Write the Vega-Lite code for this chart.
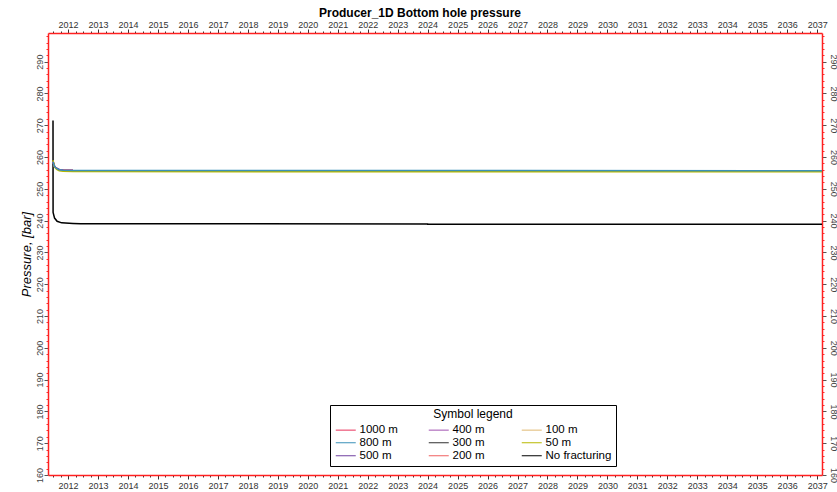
{
  "$schema": "https://vega.github.io/schema/vega-lite/v6.json",
  "width": 774,
  "height": 442,
  "autosize": {"type": "none"},
  "padding": {"left": 48, "top": 33, "right": 15, "bottom": 17},
  "background": "white",
  "config": {"view": {"stroke": null}, "font": "Liberation Sans"},
  "title": {"text": "Producer_1D Bottom hole pressure", "fontSize": 12, "fontWeight": "bold", "font": "Liberation Sans", "color": "#000", "anchor": "middle", "dx": -15, "offset": 0},
  "data": {"values": [
    {"s": "No fracturing", "t": "2011-07-01", "p": 271.5},
    {"s": "No fracturing", "t": "2011-07-02", "p": 242.6},
    {"s": "No fracturing", "t": "2011-07-20", "p": 240.8},
    {"s": "No fracturing", "t": "2011-08-20", "p": 239.8},
    {"s": "No fracturing", "t": "2011-10-15", "p": 239.3},
    {"s": "No fracturing", "t": "2012-03-01", "p": 239.1},
    {"s": "No fracturing", "t": "2012-06-01", "p": 239.0},
    {"s": "No fracturing", "t": "2024-01-01", "p": 238.95},
    {"s": "No fracturing", "t": "2024-01-02", "p": 238.85},
    {"s": "No fracturing", "t": "2037-03-01", "p": 238.85},
    {"s": "300 m", "t": "2011-07-01", "p": 258.6},
    {"s": "300 m", "t": "2011-07-20", "p": 257.0},
    {"s": "300 m", "t": "2011-08-15", "p": 256.4},
    {"s": "300 m", "t": "2011-09-15", "p": 256.0},
    {"s": "300 m", "t": "2011-11-01", "p": 255.85},
    {"s": "300 m", "t": "2012-03-01", "p": 255.75},
    {"s": "300 m", "t": "2037-03-01", "p": 255.6},
    {"s": "100 m", "t": "2011-07-01", "p": 258.7},
    {"s": "100 m", "t": "2011-07-20", "p": 257.0},
    {"s": "100 m", "t": "2011-08-15", "p": 256.4},
    {"s": "100 m", "t": "2011-09-15", "p": 256.0},
    {"s": "100 m", "t": "2011-11-01", "p": 255.8},
    {"s": "100 m", "t": "2012-03-01", "p": 255.65},
    {"s": "100 m", "t": "2037-03-01", "p": 255.5},
    {"s": "200 m", "t": "2011-07-01", "p": 258.6},
    {"s": "200 m", "t": "2011-07-20", "p": 257.0},
    {"s": "200 m", "t": "2011-08-15", "p": 256.4},
    {"s": "200 m", "t": "2011-09-15", "p": 256.0},
    {"s": "200 m", "t": "2011-11-01", "p": 255.85},
    {"s": "200 m", "t": "2012-03-01", "p": 255.72},
    {"s": "200 m", "t": "2037-03-01", "p": 255.58},
    {"s": "1000 m", "t": "2011-07-01", "p": 258.5},
    {"s": "1000 m", "t": "2011-07-20", "p": 257.0},
    {"s": "1000 m", "t": "2011-08-15", "p": 256.4},
    {"s": "1000 m", "t": "2011-09-15", "p": 256.0},
    {"s": "1000 m", "t": "2011-11-01", "p": 255.85},
    {"s": "1000 m", "t": "2012-03-01", "p": 255.75},
    {"s": "1000 m", "t": "2037-03-01", "p": 255.62},
    {"s": "500 m", "t": "2011-07-01", "p": 258.5},
    {"s": "500 m", "t": "2011-07-20", "p": 257.0},
    {"s": "500 m", "t": "2011-08-15", "p": 256.4},
    {"s": "500 m", "t": "2011-09-15", "p": 256.0},
    {"s": "500 m", "t": "2011-11-01", "p": 255.85},
    {"s": "500 m", "t": "2012-03-01", "p": 255.75},
    {"s": "500 m", "t": "2037-03-01", "p": 255.62},
    {"s": "400 m", "t": "2011-07-01", "p": 258.5},
    {"s": "400 m", "t": "2011-07-20", "p": 257.0},
    {"s": "400 m", "t": "2011-08-15", "p": 256.4},
    {"s": "400 m", "t": "2011-09-15", "p": 256.0},
    {"s": "400 m", "t": "2011-11-01", "p": 255.85},
    {"s": "400 m", "t": "2012-03-01", "p": 255.75},
    {"s": "400 m", "t": "2037-03-01", "p": 255.62},
    {"s": "50 m", "t": "2011-07-01", "p": 259.0},
    {"s": "50 m", "t": "2011-07-20", "p": 256.8},
    {"s": "50 m", "t": "2011-08-15", "p": 256.1},
    {"s": "50 m", "t": "2011-09-15", "p": 255.7},
    {"s": "50 m", "t": "2011-11-01", "p": 255.5},
    {"s": "50 m", "t": "2012-03-01", "p": 255.42},
    {"s": "50 m", "t": "2037-03-01", "p": 255.35},
    {"s": "800 m", "t": "2011-07-01", "p": 258.5},
    {"s": "800 m", "t": "2011-07-20", "p": 257.0},
    {"s": "800 m", "t": "2011-08-15", "p": 256.4},
    {"s": "800 m", "t": "2011-09-15", "p": 256.0},
    {"s": "800 m", "t": "2011-11-01", "p": 255.85},
    {"s": "800 m", "t": "2012-03-01", "p": 255.78},
    {"s": "800 m", "t": "2037-03-01", "p": 255.68}
  ]},
  "layer": [
    {
      "mark": {"type": "line", "strokeWidth": 1.5, "interpolate": "linear"},
      "encoding": {
        "x": {"field": "t", "type": "temporal",
          "scale": {"type": "utc", "domain": [{"year": 2011, "month": 5, "date": 1, "utc": true}, {"year": 2037, "month": 3, "date": 1, "utc": true}], "nice": false},
          "axis": {"orient": "bottom", "title": null, "grid": false,
            "tickCount": {"interval": "month", "step": 3},
            "labelExpr": "utcmonth(datum.value) == 0 ? utcFormat(datum.value, '%Y') : ''",
            "tickSize": {"condition": {"test": "utcmonth(datum.value) == 0", "value": 4}, "value": 2},
            "tickColor": "#333", "domainColor": "#ff2020", "domainWidth": 1.5,
            "labelFontSize": 9, "labelColor": "#333", "labelFont": "Liberation Sans", "labelPadding": 2,
            "labelOverlap": false, "labelFlush": false}},
        "y": {"field": "p", "type": "quantitative",
          "scale": {"domain": [160, 299], "nice": false, "zero": false},
          "axis": {"orient": "left", "title": "Pressure, [bar]", "grid": false,
            "tickCount": 70,
            "labelExpr": "datum.value % 10 == 0 ? datum.label : ''",
            "tickSize": {"condition": {"test": "datum.value % 10 == 0", "value": 4}, "value": 2},
            "tickColor": {"condition": {"test": "datum.value % 10 == 0", "value": "#555"}, "value": "#ff3030"},
            "domainColor": "#ff2020", "domainWidth": 1.5,
            "labelAngle": -90, "labelAlign": "center", "labelBaseline": "bottom",
            "labelFontSize": 9, "labelColor": "#444", "labelFont": "Liberation Sans", "labelPadding": 0,
            "labelOverlap": false,
            "titleFont": "Liberation Sans", "titleFontSize": 13, "titleFontStyle": "italic", "titleFontWeight": "normal", "titleColor": "#000", "titlePadding": 2}},
        "color": {"field": "s", "type": "nominal",
          "scale": {
            "domain": ["1000 m", "800 m", "500 m", "400 m", "300 m", "200 m", "100 m", "50 m", "No fracturing"],
            "range": ["#e8305a", "#3a90b8", "#7040a0", "#a050b0", "#303030", "#f06060", "#e0b870", "#b8b800", "#000000"]},
          "legend": {"orient": "none", "legendX": 282, "legendY": 372, "columns": 3, "gridAlign": "all", "columnPadding": 0, "rowPadding": 0,
            "symbolType": "M-2,0H2", "symbolSize": 100, "symbolStrokeWidth": 1, "symbolOffset": 6,
            "strokeColor": "#000", "fillColor": "white", "padding": 4,
            "title": "Symbol legend", "titleAnchor": "middle", "titleFontWeight": "normal", "titleFontSize": 12, "titleFont": "Liberation Sans", "titleColor": "#000", "titlePadding": 3,
            "labelFontSize": 11.5, "labelFont": "Liberation Sans", "labelColor": "#000", "labelOffset": 8}}
      }
    },
    {
      "mark": {"type": "point", "opacity": 0},
      "encoding": {
        "x": {"field": "t", "type": "temporal",
          "axis": {"orient": "top", "title": null, "grid": false,
            "tickCount": {"interval": "month", "step": 3},
            "labelExpr": "utcmonth(datum.value) == 0 ? utcFormat(datum.value, '%Y') : ''",
            "tickSize": {"condition": {"test": "utcmonth(datum.value) == 0", "value": 4}, "value": 2},
            "tickColor": "#333", "domainColor": "#ff2020", "domainWidth": 1.5,
            "labelFontSize": 9, "labelColor": "#333", "labelFont": "Liberation Sans", "labelPadding": 0,
            "labelOverlap": false, "labelFlush": false}},
        "y": {"field": "p", "type": "quantitative",
          "axis": {"orient": "right", "title": null, "grid": false,
            "tickCount": 70,
            "labelExpr": "datum.value % 10 == 0 ? datum.label : ''",
            "tickSize": {"condition": {"test": "datum.value % 10 == 0", "value": 4}, "value": 2},
            "tickColor": {"condition": {"test": "datum.value % 10 == 0", "value": "#555"}, "value": "#ff3030"},
            "domainColor": "#ff2020", "domainWidth": 1.5,
            "labelAngle": 90, "labelAlign": "center", "labelBaseline": "bottom",
            "labelFontSize": 9, "labelColor": "#444", "labelFont": "Liberation Sans", "labelPadding": 2,
            "labelOverlap": false}}
      }
    }
  ],
  "resolve": {"axis": {"x": "independent", "y": "independent"}}
}
